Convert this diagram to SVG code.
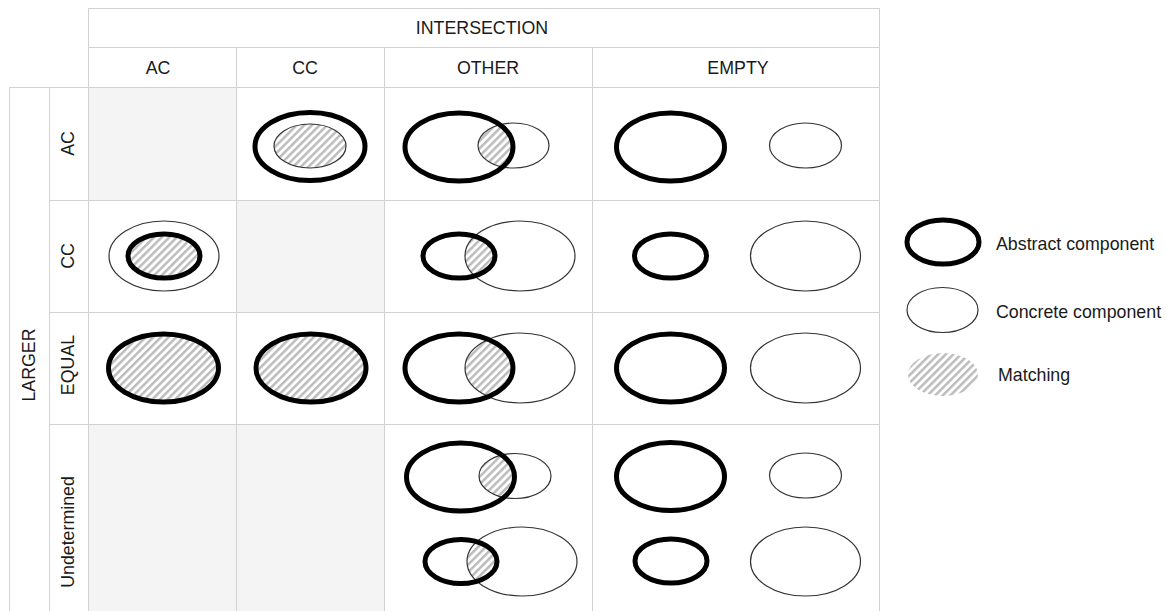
<svg xmlns="http://www.w3.org/2000/svg" width="1166" height="611" viewBox="0 0 1166 611">
<style>
.grid{stroke:#d2d2d2;stroke-width:1;fill:none}
.blank{fill:#f4f4f4}
.t{font-family:"Liberation Sans",Arial,sans-serif;font-size:17.8px;fill:#1a1a1a}
.c{text-anchor:middle}
.ab{fill:none;stroke:#000;stroke-width:5}
.cc{fill:none;stroke:#333;stroke-width:1.2}
.h{fill:url(#hatch);stroke:none}
</style>
<defs>
<pattern id="hatch" patternUnits="userSpaceOnUse" width="5.4" height="5.4" patternTransform="rotate(45)">
<rect width="5.4" height="5.4" fill="#fff"/>
<rect x="0" y="0" width="2.5" height="5.4" fill="#bcbcbc"/>
</pattern>
<clipPath id="cpA1"><ellipse cx="459" cy="147" rx="54" ry="34"/></clipPath>
<clipPath id="cpC2"><ellipse cx="459" cy="256" rx="36" ry="22"/></clipPath>
<clipPath id="cpE3"><ellipse cx="459" cy="368" rx="54" ry="34"/></clipPath>
<clipPath id="cpU1"><ellipse cx="460.5" cy="477" rx="54" ry="34"/></clipPath>
<clipPath id="cpU2"><ellipse cx="461" cy="561.5" rx="36" ry="22"/></clipPath>
</defs>
<rect width="1166" height="611" fill="#fff"/>
<g id="blanks">
<rect class="blank" x="88" y="87" width="148" height="113"/>
<rect class="blank" x="236" y="200" width="148" height="112"/>
<rect class="blank" x="88" y="424" width="296" height="187"/>
</g>
<g id="grid" class="grid">
<line x1="88" y1="8.5" x2="879" y2="8.5"/>
<line x1="88" y1="47.5" x2="879" y2="47.5"/>
<line x1="9" y1="87.5" x2="879" y2="87.5"/>
<line x1="49" y1="200.5" x2="879" y2="200.5"/>
<line x1="49" y1="312.5" x2="879" y2="312.5"/>
<line x1="49" y1="424.5" x2="879" y2="424.5"/>
<line x1="9.5" y1="87" x2="9.5" y2="611"/>
<line x1="49.5" y1="87" x2="49.5" y2="611"/>
<line x1="88.5" y1="8" x2="88.5" y2="611"/>
<line x1="236.5" y1="47" x2="236.5" y2="611"/>
<line x1="384.5" y1="47" x2="384.5" y2="611"/>
<line x1="592.5" y1="47" x2="592.5" y2="611"/>
<line x1="879.5" y1="8" x2="879.5" y2="611"/>
</g>
<g id="headers">
<text class="t c" x="482" y="34">INTERSECTION</text>
<text class="t c" x="158" y="74">AC</text>
<text class="t c" x="305" y="74">CC</text>
<text class="t c" x="488" y="74">OTHER</text>
<text class="t c" x="738" y="74">EMPTY</text>
<text class="t c" transform="translate(35,365) rotate(-90)">LARGER</text>
<text class="t c" transform="translate(74,143.5) rotate(-90)">AC</text>
<text class="t c" transform="translate(74,256) rotate(-90)">CC</text>
<text class="t c" transform="translate(74,365) rotate(-90)">EQUAL</text>
<text class="t c" transform="translate(74,532) rotate(-90)">Undetermined</text>
</g>
<g id="cell-AC-CC">
<ellipse class="h" cx="310" cy="146" rx="36" ry="22"/>
<ellipse class="cc" cx="310" cy="146" rx="36" ry="22"/>
<ellipse class="ab" cx="310" cy="146.5" rx="55" ry="34"/>
</g>
<g id="cell-AC-OTHER">
<ellipse class="h" cx="513.5" cy="145.5" rx="35.5" ry="22.5" clip-path="url(#cpA1)"/>
<ellipse class="cc" cx="513.5" cy="145.5" rx="35.5" ry="22.5"/>
<ellipse class="ab" cx="459" cy="147" rx="54" ry="34"/>
</g>
<g id="cell-AC-EMPTY">
<ellipse class="ab" cx="670.5" cy="147" rx="54" ry="34"/>
<ellipse class="cc" cx="805.5" cy="145.5" rx="36" ry="22.5"/>
</g>
<g id="cell-CC-AC">
<ellipse class="cc" cx="164" cy="256" rx="55" ry="35"/>
<ellipse class="h" cx="164" cy="256" rx="36" ry="22"/>
<ellipse class="ab" cx="164" cy="256" rx="36" ry="22"/>
</g>
<g id="cell-CC-OTHER">
<ellipse class="h" cx="520" cy="256" rx="55" ry="35" clip-path="url(#cpC2)"/>
<ellipse class="cc" cx="520" cy="256" rx="55" ry="35"/>
<ellipse class="ab" cx="459" cy="256" rx="36" ry="22"/>
</g>
<g id="cell-CC-EMPTY">
<ellipse class="ab" cx="670.5" cy="256" rx="36" ry="22"/>
<ellipse class="cc" cx="805.5" cy="256" rx="55" ry="35"/>
</g>
<g id="cell-EQ-AC">
<ellipse class="h" cx="163.5" cy="368" rx="55" ry="34"/>
<ellipse class="ab" cx="163.5" cy="368" rx="55" ry="34"/>
</g>
<g id="cell-EQ-CC">
<ellipse class="h" cx="311" cy="368" rx="55" ry="34"/>
<ellipse class="ab" cx="311" cy="368" rx="55" ry="34"/>
</g>
<g id="cell-EQ-OTHER">
<ellipse class="h" cx="520" cy="368" rx="55" ry="35" clip-path="url(#cpE3)"/>
<ellipse class="cc" cx="520" cy="368" rx="55" ry="35"/>
<ellipse class="ab" cx="459" cy="368" rx="54" ry="34"/>
</g>
<g id="cell-EQ-EMPTY">
<ellipse class="ab" cx="670.5" cy="368" rx="54" ry="34"/>
<ellipse class="cc" cx="805.5" cy="368" rx="55" ry="35"/>
</g>
<g id="cell-UN-OTHER">
<ellipse class="h" cx="515" cy="476" rx="36" ry="22.5" clip-path="url(#cpU1)"/>
<ellipse class="cc" cx="515" cy="476" rx="36" ry="22.5"/>
<ellipse class="ab" cx="460.5" cy="477" rx="54" ry="34"/>
<ellipse class="h" cx="522" cy="561.5" rx="55" ry="34.5" clip-path="url(#cpU2)"/>
<ellipse class="cc" cx="522" cy="561.5" rx="55" ry="34.5"/>
<ellipse class="ab" cx="461" cy="561.5" rx="36" ry="22"/>
</g>
<g id="cell-UN-EMPTY">
<ellipse class="ab" cx="670.5" cy="476.5" rx="54" ry="34"/>
<ellipse class="cc" cx="805.5" cy="475.5" rx="36" ry="22.5"/>
<ellipse class="ab" cx="671" cy="561" rx="36" ry="22"/>
<ellipse class="cc" cx="805.5" cy="561.5" rx="55" ry="34.5"/>
</g>
<g id="legend">
<ellipse class="ab" cx="943" cy="242" rx="36" ry="22"/>
<text class="t" x="996" y="250">Abstract component</text>
<ellipse class="cc" cx="942.5" cy="310" rx="35.5" ry="22.5"/>
<text class="t" x="996" y="318">Concrete component</text>
<ellipse class="h" cx="943" cy="374.5" rx="35" ry="21.5"/>
<text class="t" x="998" y="381">Matching</text>
</g>
</svg>
